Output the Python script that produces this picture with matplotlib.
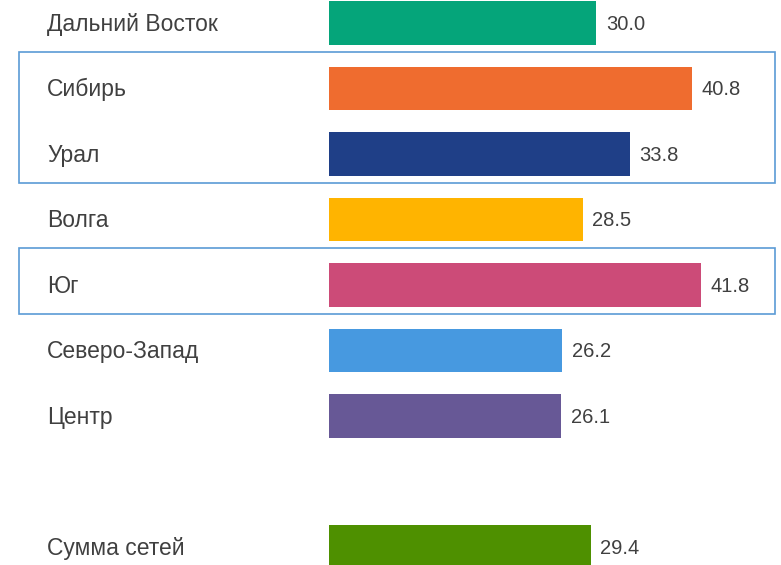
import matplotlib
matplotlib.use('Agg')
import matplotlib.pyplot as plt
from matplotlib.patches import Rectangle
from matplotlib.transforms import blended_transform_factory

plt.rcParams['font.family'] = ['Liberation Sans', 'DejaVu Sans']

regions = ['Дальний Восток', 'Сибирь', 'Урал', 'Волга', 'Юг',
           'Северо-Запад', 'Центр', 'Сумма сетей']
values = [30.0, 40.8, 33.8, 28.5, 41.8, 26.2, 26.1, 29.4]
colors = ['#05a57a', '#ef6c2f', '#1f3f87', '#ffb400', '#cc4b78',
          '#4799e0', '#675896', '#4e9000']
highlighted = [['Сибирь', 'Урал'], ['Юг']]

# the total sits one empty slot below the regions
ypos = list(range(len(regions) - 1)) + [len(regions)]

fig = plt.figure(figsize=(7.81, 5.65), dpi=100)
ax = fig.add_axes([329/781, 0, 1 - 329/781, 1])
ax.barh(ypos, values, height=0.66, color=colors)
ax.set_xlim(0, 50.8)
ax.set_ylim(8.275, -0.351)
ax.axis('off')

txt_col = '#404040'
for y, v in zip(ypos, values):
    ax.text(v + 1.1, y + 0.02, '{:.1f}'.format(v), va='center', ha='left',
            fontsize=14.5, color=txt_col)

tr = blended_transform_factory(fig.transFigure, ax.transData)
for y, name in zip(ypos, regions):
    ax.text(47/781, y + 0.02, name, transform=tr, va='center', ha='left',
            fontsize=16.5, color=txt_col)

for group in highlighted:
    ys = [ypos[regions.index(g)] for g in group]
    y0, y1 = min(ys) - 0.56, max(ys) + 0.45
    ax.add_patch(Rectangle((19/781, y0), 756/781, y1 - y0, transform=tr,
                           fill=False, edgecolor='#5b9bd5', linewidth=1.2,
                           clip_on=False))

fig.savefig('out.png', dpi=100)
